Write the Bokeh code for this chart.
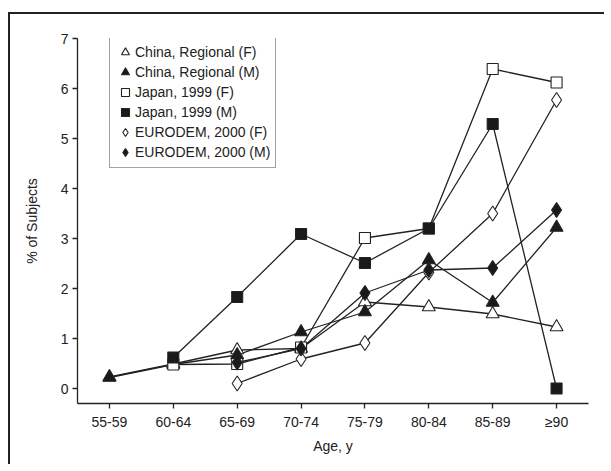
from bokeh.plotting import figure
from bokeh.models import Range1d, FixedTicker, Legend, LegendItem
from bokeh.embed import file_html
from bokeh.resources import INLINE

categories = ["55-59", "60-64", "65-69", "70-74", "75-79", "80-84", "85-89", "≥90"]

china_f = [0.23, 0.49, 0.77, 0.80, 1.73, 1.63, 1.49, 1.23]
china_m = [0.22, 0.48, 0.67, 1.13, 1.53, 2.57, 1.72, 3.22]
japan_f = [None, 0.48, 0.49, 0.82, 3.01, 3.20, 6.39, 6.12]
japan_m = [None, 0.62, 1.83, 3.09, 2.51, 3.20, 5.29, 0.0]
euro_f = [None, None, 0.10, 0.59, 0.91, 2.32, 3.50, 5.77]
euro_m = [None, None, 0.52, 0.80, 1.91, 2.37, 2.41, 3.57]

series = [
    ("China, Regional (F)", china_f, "triangle", "white", 13),
    ("China, Regional (M)", china_m, "triangle", "#1a1a1a", 13),
    ("Japan, 1999 (F)", japan_f, "square", "white", 11),
    ("Japan, 1999 (M)", japan_m, "square", "#1a1a1a", 11),
    ("EURODEM, 2000 (F)", euro_f, "diamond", "white", 15),
    ("EURODEM, 2000 (M)", euro_m, "diamond", "#1a1a1a", 15),
]

FONT = "Liberation Sans"
INK = "#222222"

p = figure(width=596, height=452, output_backend="svg", toolbar_location=None,
           x_range=Range1d(-0.5, 7.5), y_range=Range1d(-0.3, 7.0),
           min_border_left=67, min_border_right=18, min_border_top=24, min_border_bottom=63)
p.styles = {"margin-left": "8px", "margin-top": "12px",
            "border-left": "2px solid #222222", "border-top": "2px solid #222222"}
p.outline_line_color = None
p.xgrid.visible = False
p.ygrid.visible = False

for ax in (p.xaxis[0], p.yaxis[0]):
    ax.axis_line_color = INK
    ax.axis_line_width = 1.3
    ax.major_tick_line_color = INK
    ax.major_tick_line_width = 1.3
    ax.major_tick_out = 5
    ax.major_tick_in = 0
    ax.minor_tick_line_color = None
    ax.major_label_text_font = FONT
    ax.major_label_text_font_size = "14px"
    ax.major_label_text_color = INK
    ax.axis_label_text_font = FONT
    ax.axis_label_text_font_size = "14px"
    ax.axis_label_text_font_style = "normal"
    ax.axis_label_text_color = INK

p.xaxis.ticker = FixedTicker(ticks=list(range(len(categories))))
p.xaxis.major_label_overrides = {i: c for i, c in enumerate(categories)}
p.xaxis.major_label_standoff = 5
p.xaxis.axis_label = "Age, y"
p.xaxis.axis_label_standoff = 5
p.yaxis.ticker = FixedTicker(ticks=list(range(8)))
p.yaxis.major_label_standoff = 4
p.yaxis.axis_label = "% of Subjects"
p.yaxis.axis_label_standoff = 18

def pts(vals):
    xs = [i for i, v in enumerate(vals) if v is not None]
    ys = [v for v in vals if v is not None]
    return xs, ys

for name, vals, marker, fill, size in series:
    xs, ys = pts(vals)
    p.line(xs, ys, line_color=INK, line_width=1.3)

items = []
for name, vals, marker, fill, size in series:
    xs, ys = pts(vals)
    r = p.scatter(xs, ys, marker=marker, size=size, fill_color=fill,
                  line_color=INK, line_width=1.1)
    items.append(LegendItem(label=name, renderers=[r]))

legend = Legend(items=items, location=(32, 235), margin=0, padding=5,
                spacing=0, label_height=20, glyph_height=20, glyph_width=20,
                label_standoff=0, label_text_font=FONT, label_text_font_size="14px",
                label_text_color=INK, border_line_color="#444444", border_line_width=1.3,
                background_fill_alpha=1.0)
p.add_layout(legend, "center")

open("out.html", "w").write(file_html(p, INLINE))
